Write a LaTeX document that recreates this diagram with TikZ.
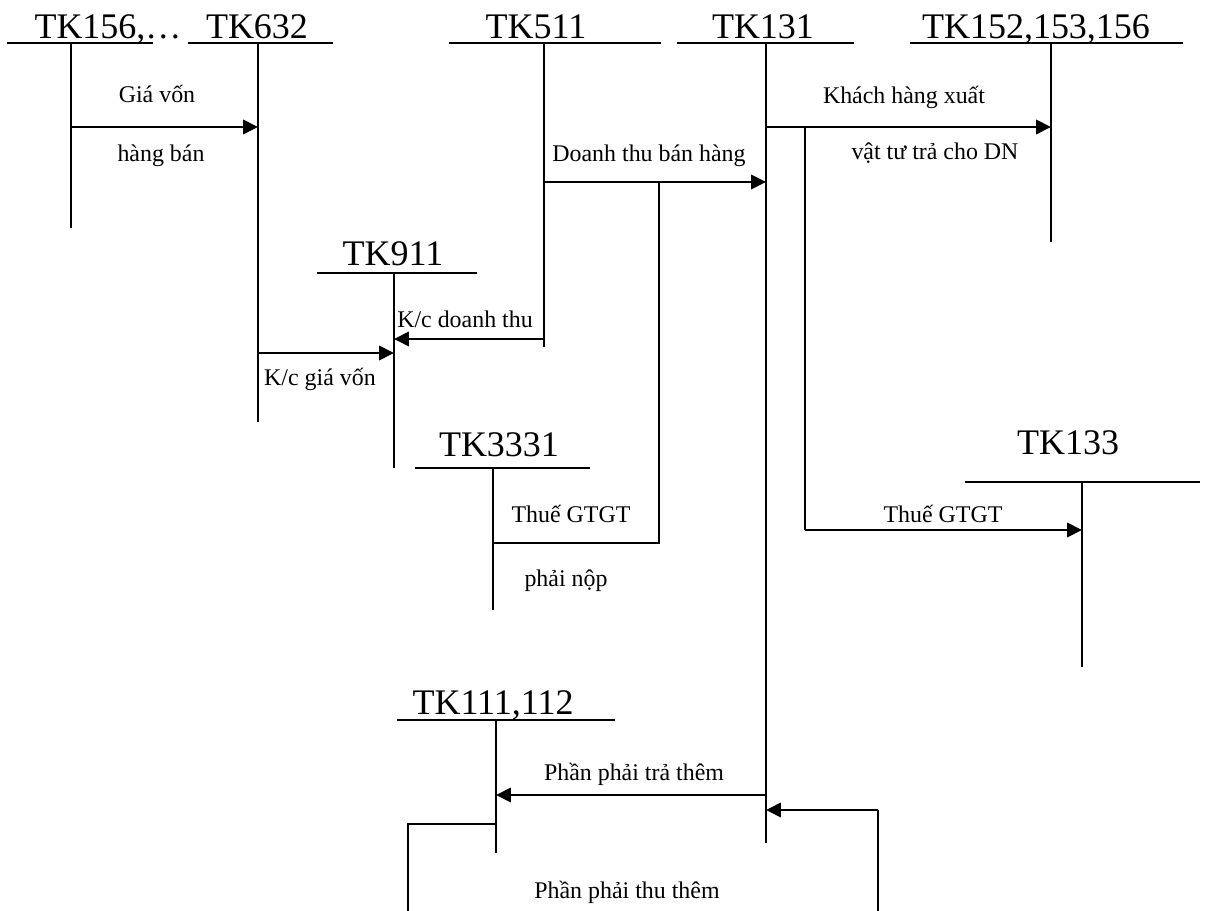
\documentclass[tikz,border=0pt]{standalone}
\usepackage{fontspec}
\setmainfont{Liberation Serif}
\usetikzlibrary{arrows.meta,calc}

\begin{document}
\begin{tikzpicture}[x=0.025cm, y=-0.025cm,
    tkname/.style={font=\fontsize{25.6}{30}\selectfont, anchor=base, inner sep=0pt},
    note/.style={font=\fontsize{17}{20}\selectfont, anchor=base, inner sep=0pt},
    tline/.style={line width=1.4pt},
    link/.style={line width=1.5pt},
    flow/.style={line width=2pt, -{Triangle[length=10.5pt, width=10pt]}}
  ]
  \useasboundingbox (0,0) rectangle (1206,911);

  % tai khoan chu T
  \node[tkname] (h156) at (108,39) {TK156,…};
  \coordinate (t156) at (71,43);
  \draw[tline] (7,43) -- (153,43);
  \draw[tline] (t156) -- ++(0,185);

  \node[tkname] (h632) at (257,39) {TK632};
  \coordinate (t632) at (258,43);
  \draw[tline] (188,43) -- (333,43);
  \draw[tline] (t632) -- ++(0,379);

  \node[tkname] (h511) at (536,39) {TK511};
  \coordinate (t511) at (544,43);
  \draw[tline] (449,43) -- (661,43);
  \draw[tline] (t511) -- ++(0,304);

  \node[tkname] (h131) at (763,39) {TK131};
  \coordinate (t131) at (766,43);
  \draw[tline] (677,43) -- (854,43);
  \draw[tline] (t131) -- ++(0,800);

  \node[tkname] (h152) at (1036,39) {TK152,153,156};
  \coordinate (t152) at (1051,43);
  \draw[tline] (910,43) -- (1183,43);
  \draw[tline] (t152) -- ++(0,199);

  \node[tkname] (h911) at (393,266) {TK911};
  \coordinate (t911) at (394,273);
  \draw[tline] (317,273) -- (477,273);
  \draw[tline] (t911) -- ++(0,195);

  \node[tkname] (h3331) at (499,457) {TK3331};
  \coordinate (t3331) at (493,468);
  \draw[tline] (415,468) -- (590,468);
  \draw[tline] (t3331) -- ++(0,142);

  \node[tkname] (h133) at (1068,455) {TK133};
  \coordinate (t133) at (1082,482);
  \draw[tline] (965,482) -- (1200,482);
  \draw[tline] (t133) -- ++(0,185);

  \node[tkname] (h111) at (493,715) {TK111,112};
  \coordinate (t111) at (496,720);
  \draw[tline] (397,720) -- (615,720);
  \draw[tline] (t111) -- ++(0,133);

  % gia von
  \coordinate (gv) at (71,127);
  \draw[flow] (gv) -- (gv -| t632);
  \node[note] (gv1) at (157,103) {Giá vốn};
  \node[note] (gv2) at (161,162) {hàng bán};

  % doanh thu
  \coordinate (dt) at (544,182);
  \draw[flow] (dt) -- (dt -| t131);
  \node[note] (dt1) at (649,162) {Doanh thu bán hàng};
  \coordinate (vat) at (659,182);
  \draw[link] (vat) -- ++(0,361) -| (t3331);
  \node[note] (vat1) at (571,523) {Thuế GTGT};
  \node[note] (vat2) at (566,587) {phải nộp};

  % ket chuyen
  \coordinate (kdt) at (544,339);
  \draw[flow] (kdt) -- (kdt -| t911);
  \node[note] (kdt1) at (465,328) {K/c doanh thu};
  \coordinate (kgv) at (258,353);
  \draw[flow] (kgv) -- (kgv -| t911);
  \node[note] (kgv1) at (320,386) {K/c giá vốn};

  % khach hang tra bang vat tu
  \coordinate (kh) at (766,127);
  \draw[flow] (kh) -- (kh -| t152);
  \node[note] (kh1) at (904,104) {Khách hàng xuất};
  \node[note] (kh2) at (935,160) {vật tư trả cho DN};
  \coordinate (vin) at (805,127);
  \coordinate (vin2) at (805,530);
  \draw[link] (vin) -- (vin2);
  \draw[flow] (vin2) -- (vin2 -| t133);
  \node[note] (vin1) at (943,523) {Thuế GTGT};

  % chenh lech
  \coordinate (tra) at (766,795);
  \draw[flow] (tra) -- (tra -| t111);
  \node[note] (tra1) at (634,780) {Phần phải trả thêm};
  \coordinate (thu) at (496,824);
  \coordinate (thu2) at (878,810);
  \draw[link] (thu) -- (408,824) -- (408,911);
  \draw[link] (878,911) -- (thu2);
  \draw[flow] (thu2) -- (thu2 -| t131);
  \node[note] (thu1) at (627,898) {Phần phải thu thêm};
\end{tikzpicture}
\end{document}
